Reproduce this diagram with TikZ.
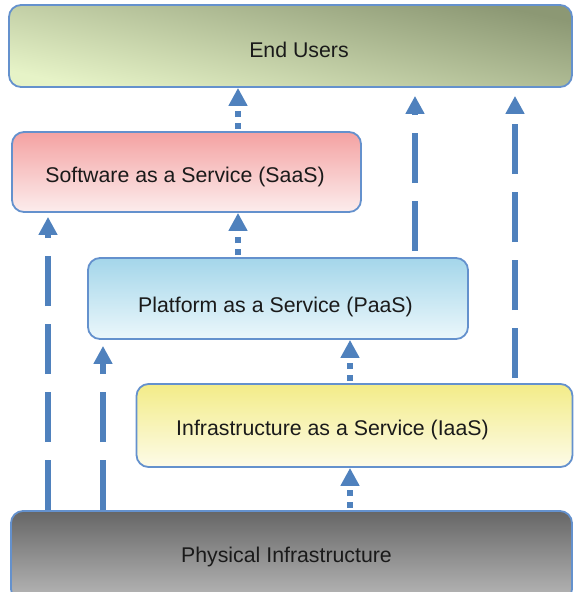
\documentclass[tikz,border=0pt]{standalone}
\usepackage{fontspec}
\setmainfont{Liberation Sans}
\usetikzlibrary{arrows.meta}

\definecolor{arrowblue}{RGB}{79,129,189}
\definecolor{boxline}{RGB}{100,145,205}
\definecolor{textgray}{RGB}{26,26,26}
\definecolor{usersdark}{RGB}{140,152,116}
\definecolor{userslight}{RGB}{230,243,199}
\definecolor{saastop}{RGB}{244,162,162}
\definecolor{saasbot}{RGB}{252,237,237}
\definecolor{paastop}{RGB}{164,214,234}
\definecolor{paasbot}{RGB}{235,247,251}
\definecolor{iaastop}{RGB}{243,236,136}
\definecolor{iaasbot}{RGB}{253,251,232}
\definecolor{phystop}{RGB}{102,102,102}
\definecolor{physbot}{RGB}{184,184,184}

\tikzset{
  layer/.style={draw=boxline, line width=1.8pt, rounded corners=12pt, inner sep=0pt},
  caption/.style={anchor=base, inner sep=0pt, text=textgray, font=\fontsize{21.3}{25}\selectfont},
  longdash/.style={draw=arrowblue, line width=6pt, dash pattern=on 50pt off 18pt,
    -{Triangle[width=18pt,length=18pt]}},
  dotdash/.style={draw=arrowblue, line width=6pt, dash pattern=on 6pt off 6pt, shorten <=2pt,
    -{Triangle[width=18pt,length=18pt]}},
}

\begin{document}
\begin{tikzpicture}[x=1pt,y=-1pt]
  \clip (0,0) rectangle (575,592);
  % layers
  \node[layer, minimum width=563pt, minimum height=82pt, top color=usersdark, bottom color=userslight, shading angle=-12] (users) at (290.5,46) {};
  \node[layer, minimum width=349pt, minimum height=80pt, top color=saastop, bottom color=saasbot] (saas) at (186.5,172) {};
  \node[layer, minimum width=380pt, minimum height=81pt, top color=paastop, bottom color=paasbot] (paas) at (278,298.5) {};
  \node[layer, minimum width=436pt, minimum height=83pt, top color=iaastop, bottom color=iaasbot] (iaas) at (354.5,425.5) {};
  \node[layer, minimum width=561pt, minimum height=90pt, top color=phystop, bottom color=physbot] (phys) at (291.5,556) {};

  \node[caption] (userstext) at (299,57)  {End Users};
  \node[caption] (saastext)  at (185,182) {Software as a Service (SaaS)};
  \node[caption] (paastext)  at (275.5,312) {Platform as a Service (PaaS)};
  \node[caption] (iaastext)  at (332.5,435) {Infrastructure as a Service (IaaS)};
  \node[caption] (phystext)  at (286.5,562) {Physical Infrastructure};

  % arrow columns
  \coordinate (colA) at (48,0);
  \coordinate (colB) at (103,0);
  \coordinate (colC) at (238,0);
  \coordinate (colD) at (350,0);
  \coordinate (colE) at (415,0);
  \coordinate (colF) at (515,0);

  \draw[dotdash] (saas.north -| colC) -- (users.south -| colC);
  \draw[dotdash] (paas.north -| colC) -- (saas.south -| colC);
  \draw[dotdash] (iaas.north -| colD) -- (paas.south -| colD);
  \draw[dotdash] (phys.north -| colD) -- (iaas.south -| colD);
  \draw[longdash, shorten >=4pt] (phys.north -| colA) -- (saas.south -| colA);
  \draw[longdash, shorten >=6pt] (phys.north -| colB) -- (paas.south -| colB);
  \draw[longdash, shorten <=6pt, shorten >=8pt] (paas.north -| colE) -- (users.south -| colE);
  \draw[longdash, shorten <=5pt, shorten >=8pt] (iaas.north -| colF) -- (users.south -| colF);
\end{tikzpicture}
\end{document}
